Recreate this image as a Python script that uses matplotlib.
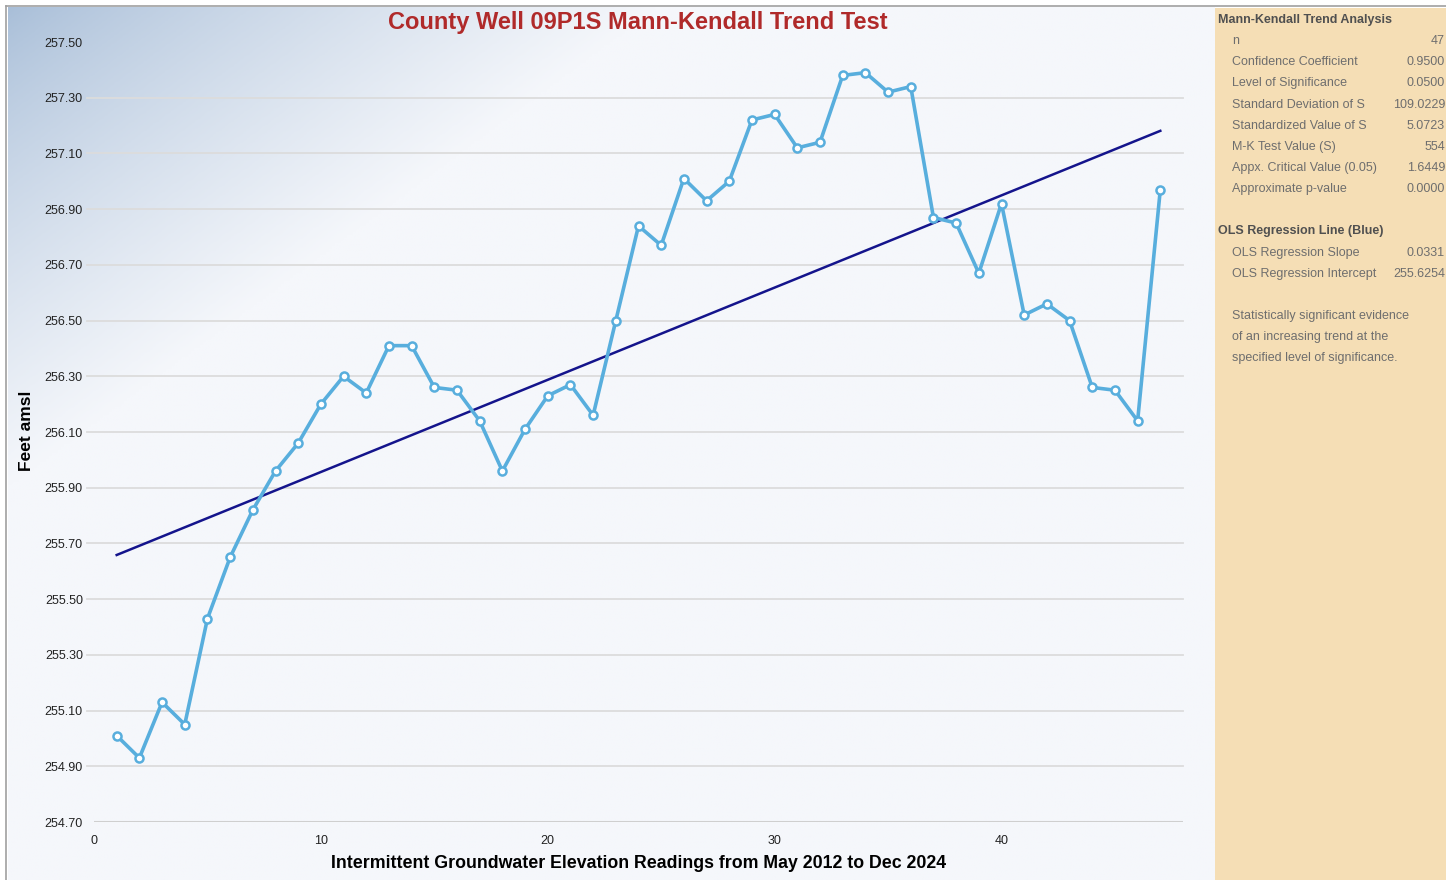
import numpy as np
import matplotlib.pyplot as plt
from matplotlib.colors import LinearSegmentedColormap

# readings (index) and elevation in feet amsl
reading = list(range(1, 48))
elevation = [255.01, 254.93, 255.13, 255.05, 255.43, 255.65, 255.82, 255.96, 256.06, 256.20,
             256.30, 256.24, 256.41, 256.41, 256.26, 256.25, 256.14, 255.96, 256.11, 256.23,
             256.27, 256.16, 256.50, 256.84, 256.77, 257.01, 256.93, 257.00, 257.22, 257.24,
             257.12, 257.14, 257.38, 257.39, 257.32, 257.34, 256.87, 256.85, 256.67, 256.92,
             256.52, 256.56, 256.50, 256.26, 256.25, 256.14, 256.97]

ols_slope = 0.0331
ols_intercept = 255.6254

yticks = [254.70, 254.90, 255.10, 255.30, 255.50, 255.70, 255.90, 256.10, 256.30,
          256.50, 256.70, 256.90, 257.10, 257.30, 257.50]
xticks = [0, 10, 20, 30, 40]

mk_rows = [("n", "47"),
           ("Confidence Coefficient", "0.9500"),
           ("Level of Significance", "0.0500"),
           ("Standard Deviation of S", "109.0229"),
           ("Standardized Value of S", "5.0723"),
           ("M-K Test Value (S)", "554"),
           ("Appx. Critical Value (0.05)", "1.6449"),
           ("Approximate p-value", "0.0000")]
ols_rows = [("OLS Regression Slope", "0.0331"),
            ("OLS Regression Intercept", "255.6254")]
note = ["Statistically significant evidence",
        "of an increasing trend at the",
        "specified level of significance."]

plt.rcParams['font.family'] = ['Liberation Sans', 'DejaVu Sans']

W, H = 1446, 880
fig = plt.figure(figsize=(W / 100, H / 100), dpi=100)
fig.patch.set_facecolor('white')

def fx(px):
    return px / W

def fy(py):
    return 1 - py / H

# gradient background of the chart panel
bg = fig.add_axes([fx(8), 0, fx(1215 - 8), fy(7)])
bg.set_axis_off()
gx, gy = np.meshgrid(np.linspace(0, 1207, 400), np.linspace(0, 873, 300))
t = np.clip(gx / 650 + gy / 480, 0, 1) ** 0.8
cmap = LinearSegmentedColormap.from_list('bgc', ['#A8BED8', '#F5F7FB'])
bg.imshow(t, cmap=cmap, aspect='auto', extent=[0, 1, 0, 1], vmin=0, vmax=1)
bg.set_xlim(0, 1)
bg.set_ylim(0, 1)

# frame lines
fig.add_artist(plt.Line2D([fx(6.5), fx(6.5)], [0, fy(6.5)], color='#A0A0A0', lw=1.2))
fig.add_artist(plt.Line2D([fx(6.5), 1], [fy(6.5), fy(6.5)], color='#A0A0A0', lw=1.2))

# side panel
side = fig.add_axes([fx(1215), 0, fx(W - 1215), fy(8)])
side.set_facecolor('#F5DEB5')
side.set_xticks([])
side.set_yticks([])
for s in side.spines.values():
    s.set_visible(False)

ax = fig.add_axes([fx(94), fy(822), fx(1183 - 94), fy(42) - fy(822)])
ax.patch.set_alpha(0)
for s in ax.spines.values():
    s.set_visible(False)

for v in yticks[1:-1]:
    ax.axhline(v, xmin=-0.006, color='#DCDCDC', lw=1.3, zorder=1, clip_on=False)
ax.axhline(yticks[0], color='#CFCFCF', lw=2.2, zorder=1)

xs = np.array([reading[0], reading[-1]])
ax.plot(xs, ols_intercept + ols_slope * xs, color='#14148C', lw=1.8, zorder=3)
ax.plot(reading, elevation, color='#58AEDD', lw=2.6, marker='o', markersize=5.8,
        markerfacecolor='white', markeredgecolor='#58AEDD', markeredgewidth=1.8, zorder=4)

ax.set_xlim(0, 48)
ax.set_ylim(254.70, 257.50)
ax.set_xticks(xticks)
ax.set_xticklabels([str(v) for v in xticks])
ax.set_yticks(yticks)
ax.set_yticklabels([f"{v:.2f}" for v in yticks])
ax.tick_params(length=0, labelsize=9, colors='#222222')
ax.tick_params(axis='y', pad=8)
ax.tick_params(axis='x', pad=9)

ax.set_xlabel("Intermittent Groundwater Elevation Readings from May 2012 to Dec 2024",
              fontsize=12.8, fontweight='bold', labelpad=6)
fig.text(fx(27), fy(431), "Feet amsl", rotation=90, fontsize=12.5, fontweight='bold',
         ha='center', va='center')
fig.text(fx(638), fy(23), "County Well 09P1S Mann-Kendall Trend Test", fontsize=17,
         fontweight='bold', color='#B02A2A', ha='center', va='center')

# statistics panel text
lab_c = '#6E6E6E'
head_c = '#505050'
fig.text(fx(1218), fy(20), "Mann-Kendall Trend Analysis", fontsize=9, fontweight='bold',
         color=head_c, va='center')
for i, (lab, val) in enumerate(mk_rows):
    y = 41 + i * 21.2
    fig.text(fx(1232), fy(y), lab, fontsize=9, color=lab_c, va='center')
    fig.text(fx(1445), fy(y), val, fontsize=9, color=lab_c, va='center', ha='right')
fig.text(fx(1218), fy(231), "OLS Regression Line (Blue)", fontsize=9, fontweight='bold',
         color=head_c, va='center')
for i, (lab, val) in enumerate(ols_rows):
    y = 253 + i * 21
    fig.text(fx(1232), fy(y), lab, fontsize=9, color=lab_c, va='center')
    fig.text(fx(1445), fy(y), val, fontsize=9, color=lab_c, va='center', ha='right')
for i, line in enumerate(note):
    fig.text(fx(1232), fy(316 + i * 21), line, fontsize=9, color=lab_c, va='center')

fig.savefig('out.png', dpi=100)
